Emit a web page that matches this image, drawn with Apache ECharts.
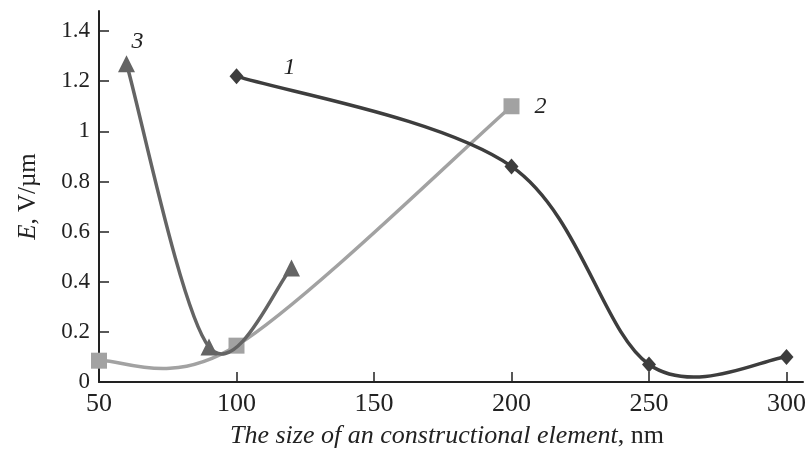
<!DOCTYPE html>
<html>
<head>
<meta charset="utf-8">
<script src="https://cdn.jsdelivr.net/npm/echarts@6/dist/echarts.min.js"></script>
<style>
  html, body { margin: 0; padding: 0; background: #fff; }
  #chart { width: 809px; height: 452px; }
</style>
</head>
<body>
<div id="chart"></div>
<script>
// Element sizes (nm) and field values E (V/µm) for the three structures
const sizes1 = [100, 200, 250, 300];
const field1 = [1.22, 0.86, 0.07, 0.10];
const sizes2 = [50, 100, 200];
const field2 = [0.085, 0.145, 1.10];
const sizes3 = [60, 90, 120];
const field3 = [1.27, 0.14, 0.455];

const xTicks = [50, 100, 150, 200, 250, 300];
const yTicks = [0, 0.2, 0.4, 0.6, 0.8, 1, 1.2, 1.4];

const serif = "'Liberation Serif', 'Times New Roman', serif";
const ink = '#222';

function pairs(xs, ys) {
  return xs.map((x, i) => [x, ys[i]]);
}

// Smooth curve through the points: cubic Bezier segments with
// Catmull-Rom tangents computed in pixel space (ends duplicated).
function curveSeries(xs, ys, color, z) {
  return {
    type: 'custom',
    data: pairs(xs, ys),
    z: z,
    silent: true,
    renderItem: function (params, api) {
      const i = params.dataIndex;
      if (i === 0) return null;
      const n = xs.length;
      const P = (k) => {
        const j = Math.max(0, Math.min(n - 1, k));
        return api.coord([xs[j], ys[j]]);
      };
      const p0 = P(i - 2), p1 = P(i - 1), p2 = P(i), p3 = P(i + 1);
      return {
        type: 'bezierCurve',
        shape: {
          x1: p1[0], y1: p1[1],
          x2: p2[0], y2: p2[1],
          cpx1: p1[0] + (p2[0] - p0[0]) / 6,
          cpy1: p1[1] + (p2[1] - p0[1]) / 6,
          cpx2: p2[0] - (p3[0] - p1[0]) / 6,
          cpy2: p2[1] - (p3[1] - p1[1]) / 6
        },
        style: { stroke: color, lineWidth: 3.5, fill: null, lineCap: 'round' }
      };
    }
  };
}

function curveLabel(text, position, offset) {
  return {
    show: true,
    formatter: text,
    position: position,
    offset: offset,
    fontFamily: serif,
    fontStyle: 'italic',
    fontSize: 24,
    color: ink
  };
}

function markerSeries(data, symbol, size, color, z) {
  return {
    type: 'scatter',
    data: data,
    symbol: symbol,
    symbolSize: size,
    itemStyle: { color: color, opacity: 1 },
    z: z,
    silent: true
  };
}

const m1 = pairs(sizes1, field1);
m1[0] = { value: m1[0], label: curveLabel('1', 'right', [35, -8]) };
const m2 = pairs(sizes2, field2);
m2[2] = { value: m2[2], label: curveLabel('2', 'right', [10, 0]) };
const m3 = pairs(sizes3, field3);
m3[0] = { value: m3[0], label: curveLabel('3', 'top', [11, 4]) };

const chart = echarts.init(document.getElementById('chart'), null, { renderer: 'canvas' });

chart.setOption({
  animation: false,
  backgroundColor: '#fff',
  grid: { left: 99, right: 6, top: 11, bottom: 70, outerBoundsMode: 'none', containLabel: false },
  xAxis: {
    type: 'value',
    min: 50,
    max: 306,
    axisLine: { show: true, lineStyle: { color: ink, width: 2 } },
    axisTick: { show: true, inside: true, length: 10, lineStyle: { color: ink, width: 1.5 }, customValues: xTicks },
    axisLabel: { customValues: xTicks, fontFamily: serif, fontSize: 26, color: ink, margin: 9 },
    splitLine: { show: false },
    name: '{i|The size of an constructional element}{n|, nm}',
    nameLocation: 'middle',
    nameGap: 41,
    nameTextStyle: {
      padding: [0, 8, 0, 0],
      rich: {
        i: { fontFamily: serif, fontStyle: 'italic', fontSize: 26, color: ink },
        n: { fontFamily: serif, fontSize: 26, color: ink }
      }
    }
  },
  yAxis: {
    type: 'value',
    min: 0,
    max: 1.48,
    axisLine: { show: true, lineStyle: { color: ink, width: 2 } },
    axisTick: { show: true, inside: true, length: 10, lineStyle: { color: ink, width: 1.5 }, customValues: yTicks },
    axisLabel: { customValues: yTicks, fontFamily: serif, fontSize: 23, color: ink, margin: 9 },
    splitLine: { show: false },
    name: '{i|E}{n|, V/µm}',
    nameLocation: 'middle',
    nameGap: 58,
    nameRotate: 90,
    nameTextStyle: {
      rich: {
        i: { fontFamily: serif, fontStyle: 'italic', fontSize: 25, color: ink },
        n: { fontFamily: serif, fontSize: 25, color: ink }
      }
    }
  },
  series: [
    curveSeries(sizes2, field2, '#a2a2a2', 2),
    markerSeries(m2, 'rect', 16, '#a2a2a2', 3),
    curveSeries(sizes3, field3, '#646464', 4),
    markerSeries(m3, 'triangle', 17, '#646464', 5),
    curveSeries(sizes1, field1, '#3d3d3d', 6),
    markerSeries(m1, 'diamond', [14, 16], '#3d3d3d', 7)
  ]
});
</script>
</body>
</html>
